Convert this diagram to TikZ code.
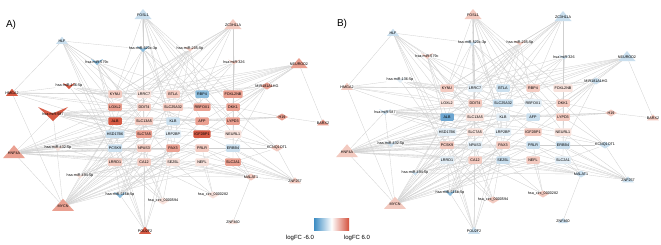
\documentclass[tikz,border=0pt]{standalone}
\usepackage{fontspec}
\setmainfont{Liberation Sans}
\usetikzlibrary{backgrounds}
\definecolor{cR0}{RGB}{248,226,220}
\definecolor{cR1}{RGB}{243,202,192}
\definecolor{cR2}{RGB}{234,160,145}
\definecolor{cR3}{RGB}{214,90,68}
\definecolor{cB0}{RGB}{226,237,245}
\definecolor{cB1}{RGB}{202,223,238}
\definecolor{cB2}{RGB}{140,188,220}
\definecolor{cB3}{RGB}{108,165,208}
\definecolor{lgB}{RGB}{60,140,195}
\definecolor{lgR}{RGB}{212,80,60}
\tikzset{
  lab/.style={font=\fontsize{3.7}{4}\selectfont, inner sep=0.3pt},
  gbox/.style={rounded corners=1pt, minimum width=13.5pt, minimum height=7.5pt, inner xsep=1.1pt, inner ysep=0pt, font=\fontsize{3.7}{4}\selectfont},
  edge/.style={draw=gray!38, line width=0.3pt},
  panellab/.style={font=\fontsize{10}{10}\selectfont},
  leglab/.style={font=\fontsize{6}{6}\selectfont}
}
% name, x, y, halfwidth, height, colour, label
\newcommand\TRI[7]{\fill[#6] ({#2-#4},{#3+0.4*#5}) -- ({#2+#4},{#3+0.4*#5}) -- (#2,{#3-0.6*#5}) -- cycle;
  \node[lab] (#1) at (#2,#3) {#7};}
\newcommand\VEE[7]{\fill[#6] ({#2-#4},{#3-0.5*#5}) -- (#2,{#3-0.05*#5}) -- ({#2+#4},{#3-0.5*#5}) -- (#2,{#3+0.5*#5}) -- cycle;
  \node[lab] (#1) at (#2,#3) {#7};}
\newcommand\DIA[7]{\fill[#6] ({#2-#4},#3) -- (#2,{#3-#5}) -- ({#2+#4},#3) -- (#2,{#3+#5}) -- cycle;
  \node[lab] (#1) at (#2,#3) {#7};}
\newcommand\BOX[5]{\node[gbox,fill=#4] (#1) at (#2,#3) {#5};}
\newcommand\EDG[2]{\foreach \t in {#2}{\draw[edge] (#1) -- (\t);}}
\newcommand\NETEDGES{%
\begin{pgfonlayer}{background}
\EDG{FOSL1}{LRRC7,m520,KYNU,BTLA,DDIT4,SLC13A5,LRP2BP,PAX3,FOXL2NB,SLC7A5,CA12,AFP,DKK1,LYPD3,NEURL1}
\EDG{HLF}{m520,m579,LOXL2,KYNU,SLC25A32,HSD17B6,PCSK9,DDIT4,LRRD1,HMGA2}
\EDG{m520}{KYNU,DDIT4,SLC25A32,LYPD3,KLB,RBFOX1,NPAS3,ALB}
\EDG{m579}{LOXL2,ALB,SLC13A5,HSD17B6,RBP4,IGF2BP1,SEZ6L}
\EDG{m136}{KYNU,SLC25A32,LRP2BP,DKK1,AFP,NEURL1,PCSK9}
\EDG{HMGA2}{MYCN,KYNU,LOXL2,LRRC7,DDIT4,m136,RBP4,SLC7A5}
\EDG{m587}{ALB,SLC13A5,KLB,AFP,LYPD3,LOXL2,DDIT4,HSD17B6,SLC7A5,IGF2BP1,NEURL1,PRLR,RBFOX1,DKK1}
\EDG{ZC3H11A}{m326,m205,FOXL2NB,RBP4,BTLA,LRRC7,KYNU,SLC25A32,ALB,LOXL2,DKK1}
\EDG{m205}{KYNU,LOXL2,SLC13A5,HSD17B6,LRRC7,RBFOX1,PAX3,CA12}
\EDG{m326}{FOXL2NB,DKK1,LYPD3,NEURL1,ERBB4,SLC2A1,BTLA,LRP2BP,PCSK9,KYNU}
\EDG{NEUROD2}{MIR181,RBP4,FOXL2NB,BTLA,SLC25A32,AFP,DKK1,LRRC7,DDIT4,BARX2,KYNU}
\EDG{MIR181}{FOXL2NB,RBP4,DKK1,LYPD3,IGF2BP1,ERBB4,BTLA}
\EDG{H19}{LYPD3,DKK1,AFP,BARX2,KLB,SLC13A5}
\EDG{KCNQ}{ERBB4,PRLR,IGF2BP1,LYPD3,DKK1,NEURL1,SLC2A1}
\EDG{MALAT1}{ZNF257,ZNF460,SLC2A1,PRLR,NEFL,ERBB4,SEZ6L,CA12,LRRD1,PCSK9}
\EDG{ZNF257}{KCNQ,NEURL1,ERBB4,SLC2A1,PRLR,NEFL,IGF2BP1,PAX3}
\EDG{c282}{SEZ6L,PRLR,NEFL,CA12}
\EDG{c594}{PCSK9,LRRD1,NPAS3,PAX3,CA12}
\EDG{POU2F2}{m516,PCSK9,LRRD1,CA12,NPAS3,SLC7A5,HSD17B6,PAX3,KLB}
\EDG{m516}{LRRD1,CA12,PAX3,PRLR,NPAS3,SLC13A5,AFP,IGF2BP1}
\EDG{MYCN}{m494,LRRD1,CA12,PCSK9,NPAS3,HSD17B6,ALB,SLC13A5,SLC7A5,PAX3,LRP2BP,SEZ6L,PRLR,KLB,NEFL,DDIT4,SLC2A1,LYPD3,ERBB4,m587}
\EDG{m494}{LRRD1,PCSK9,CA12,NPAS3,SEZ6L,KLB,ALB,PRLR,MALAT1}
\EDG{HNF4A}{m432,m587,ALB,HSD17B6,PCSK9,SLC13A5,SLC7A5,LRP2BP,NPAS3,PAX3,KLB,AFP,IGF2BP1,LRRD1,CA12,SEZ6L,NEFL,ERBB4,PRLR,LOXL2,DDIT4,MYCN}
\EDG{m432}{HSD17B6,PCSK9,SLC7A5,NPAS3,ALB,LRRD1,PAX3,KLB}
\end{pgfonlayer}}
\begin{document}
\begin{tikzpicture}[x=1pt,y=-1pt]
\useasboundingbox (0,0) rectangle (661,244);
% ---------------- Panel A ----------------
\begin{scope}[name prefix=A-]
\node[panellab] (lblA) at (11,25) {A)};
\BOX{KYNU}{115}{94}{cR1}{KYNU}
\BOX{LRRC7}{144}{94}{cR0}{LRRC7}
\BOX{BTLA}{173}{94}{cR1}{BTLA}
\BOX{RBP4}{202}{94}{cB2}{RBP4}
\BOX{FOXL2NB}{233}{94}{cR2}{FOXL2NB}
\BOX{LOXL2}{115}{107}{cR2}{LOXL2}
\BOX{DDIT4}{144}{107}{cR1}{DDIT4}
\BOX{SLC25A32}{173}{107}{cR1}{SLC25A32}
\BOX{RBFOX1}{202}{107}{cR2}{RBFOX1}
\BOX{DKK1}{233}{107}{cR2}{DKK1}
\BOX{ALB}{115}{121}{cR3}{ALB}
\BOX{SLC13A5}{144}{121}{cR1}{SLC13A5}
\BOX{KLB}{173}{121}{cB1}{KLB}
\BOX{AFP}{202}{121}{cR2}{AFP}
\BOX{LYPD3}{233}{121}{cR2}{LYPD3}
\BOX{HSD17B6}{115}{134}{cB1}{HSD17B6}
\BOX{SLC7A5}{144}{134}{cR2}{SLC7A5}
\BOX{LRP2BP}{173}{134}{cB0}{LRP2BP}
\BOX{IGF2BP1}{202}{134}{cR3}{IGF2BP1}
\BOX{NEURL1}{233}{134}{cR0}{NEURL1}
\BOX{PCSK9}{115}{148}{cB1}{PCSK9}
\BOX{NPAS3}{144}{148}{cR1}{NPAS3}
\BOX{PAX3}{173}{148}{cR2}{PAX3}
\BOX{PRLR}{202}{148}{cR1}{PRLR}
\BOX{ERBB4}{233}{148}{cB1}{ERBB4}
\BOX{LRRD1}{115}{162}{cR1}{LRRD1}
\BOX{CA12}{144}{162}{cR1}{CA12}
\BOX{SEZ6L}{173}{162}{cR0}{SEZ6L}
\BOX{NEFL}{202}{162}{cR0}{NEFL}
\BOX{SLC2A1}{233}{162}{cR2}{SLC2A1}
\TRI{FOSL1}{143}{15}{8.5}{10}{cB1}{FOSL1}
\TRI{HLF}{62}{41}{6}{7}{cB1}{HLF}
\VEE{m520}{143}{49}{6}{6}{cB2}{hsa-miR-520c-3p}
\VEE{m579}{97}{62}{6}{6}{cB2}{hsa-miR-579c}
\VEE{m136}{69}{86}{6}{6}{cR3}{hsa-miR-136-5p}
\TRI{HMGA2}{12}{93}{6}{7}{cR3}{HMGA2}
\VEE{m587}{53}{114}{15}{14}{cR3}{hsa-miR-587}
\TRI{ZC3H11A}{233}{25}{8.5}{10}{cR1}{ZC3H11A}
\VEE{m205}{190}{49}{6}{5}{cR1}{hsa-miR-205-5p}
\VEE{m326}{234}{62}{6}{5}{cR1}{hsa-miR-326}
\TRI{NEUROD2}{299}{64}{8.5}{10}{cR2}{NEUROD2}
\DIA{MIR181}{267}{86}{6}{3.5}{cR2}{MIR181A1HG}
\DIA{H19}{282}{117}{6}{3.5}{cR2}{H19}
\TRI{BARX2}{323}{123}{6}{6}{cR2}{BARX2}
\DIA{KCNQ}{277}{148}{6}{3.5}{cR1}{KCNQ1OT1}
\DIA{MALAT1}{251}{177}{6}{3.5}{cR1}{MALAT1}
\TRI{ZNF257}{295}{181}{6}{6}{cR1}{ZNF257}
\DIA{c282}{213}{195}{6}{3.5}{cR0}{hsa\_circ\_0000282}
\DIA{c594}{163}{201}{6}{3.5}{cR0}{hsa\_circ\_0000594}
\TRI{ZNF460}{233}{222}{5}{5}{cR0}{ZNF460}
\TRI{POU2F2}{145}{231}{6}{7}{cR3}{POU2F2}
\VEE{m516}{120}{195}{6}{6}{cB2}{hsa-miR-516b-5p}
\TRI{MYCN}{63}{206}{11}{12}{cR2}{MYCN}
\VEE{m494}{80}{176}{5}{5}{cR0}{hsa-miR-494-5p}
\TRI{HNF4A}{14}{153}{11}{13}{cR2}{HNF4A}
\VEE{m432}{58}{148}{6}{6}{cR0}{hsa-miR-432-5p}
\NETEDGES
\end{scope}
% ---------------- Panel B ----------------
\begin{scope}[shift={(330,0)},name prefix=B-]
\node[panellab] (lblB) at (12,24) {B)};
\BOX{KYNU}{117}{88}{cR1}{KYNU}
\BOX{LRRC7}{145}{88}{cB0}{LRRC7}
\BOX{BTLA}{173}{88}{cB1}{BTLA}
\BOX{RBP4}{203}{88}{cR1}{RBP4}
\BOX{FOXL2NB}{233}{88}{cR0}{FOXL2NB}
\BOX{LOXL2}{117}{103}{cR0}{LOXL2}
\BOX{DDIT4}{145}{103}{cR1}{DDIT4}
\BOX{SLC25A32}{173}{103}{cB1}{SLC25A32}
\BOX{RBFOX1}{203}{103}{cB0}{RBFOX1}
\BOX{DKK1}{233}{103}{cR1}{DKK1}
\BOX{ALB}{117}{117}{cB3}{ALB}
\BOX{SLC13A5}{145}{117}{cR0}{SLC13A5}
\BOX{KLB}{173}{117}{cB0}{KLB}
\BOX{AFP}{203}{117}{cB1}{AFP}
\BOX{LYPD3}{233}{117}{cR1}{LYPD3}
\BOX{HSD17B6}{117}{132}{cB0}{HSD17B6}
\BOX{SLC7A5}{145}{132}{cR0}{SLC7A5}
\BOX{LRP2BP}{173}{132}{cB0}{LRP2BP}
\BOX{IGF2BP1}{203}{132}{cR1}{IGF2BP1}
\BOX{NEURL1}{233}{132}{cR0}{NEURL1}
\BOX{PCSK9}{117}{145}{cR1}{PCSK9}
\BOX{NPAS3}{145}{145}{cB0}{NPAS3}
\BOX{PAX3}{173}{145}{cR1}{PAX3}
\BOX{PRLR}{203}{145}{cB1}{PRLR}
\BOX{ERBB4}{233}{145}{cB1}{ERBB4}
\BOX{LRRD1}{117}{160}{cB0}{LRRD1}
\BOX{CA12}{145}{160}{cR1}{CA12}
\BOX{SEZ6L}{173}{160}{cB1}{SEZ6L}
\BOX{NEFL}{203}{160}{cR1}{NEFL}
\BOX{SLC2A1}{233}{160}{cB0}{SLC2A1}
\TRI{FOSL1}{143}{15}{8.5}{10}{cR1}{FOSL1}
\TRI{HLF}{63}{33}{6}{7}{cB1}{HLF}
\VEE{m520}{142}{43}{6}{6}{cB1}{hsa-miR-520c-3p}
\VEE{m579}{97}{56}{6}{6}{cR1}{hsa-miR-579c}
\VEE{m136}{70}{80}{6}{6}{cB0}{hsa-miR-136-5p}
\TRI{HMGA2}{17}{87}{6}{7}{cR1}{HMGA2}
\VEE{m587}{55}{112}{6}{6}{cB1}{hsa-miR-587}
\TRI{ZC3H11A}{233}{17}{8.5}{10}{cB1}{ZC3H11A}
\VEE{m205}{190}{43}{6}{5}{cR1}{hsa-miR-205-5p}
\VEE{m326}{234}{57}{6}{5}{cB1}{hsa-miR-326}
\TRI{NEUROD2}{297}{57}{8.5}{10}{cB1}{NEUROD2}
\DIA{MIR181}{266}{81}{6}{3.5}{cB1}{MIR181A1HG}
\DIA{H19}{281}{113}{6}{3.5}{cR1}{H19}
\TRI{BARX2}{323}{118}{6}{6}{cR1}{BARX2}
\DIA{KCNQ}{275}{145}{6}{3.5}{cB1}{KCNQ1OT1}
\DIA{MALAT1}{251}{174}{6}{3.5}{cB1}{MALAT1}
\TRI{ZNF257}{298}{180}{6}{6}{cB1}{ZNF257}
\DIA{c282}{213}{194}{6}{3.5}{cR1}{hsa\_circ\_0000282}
\DIA{c594}{163}{200}{6}{3.5}{cR1}{hsa\_circ\_0000594}
\TRI{ZNF460}{233}{221}{5}{5}{cB1}{ZNF460}
\TRI{POU2F2}{144}{231}{6}{7}{cB1}{POU2F2}
\VEE{m516}{120}{193}{6}{6}{cB2}{hsa-miR-516b-5p}
\TRI{MYCN}{65}{204}{11}{12}{cR1}{MYCN}
\VEE{m494}{85}{173}{5}{5}{cB1}{hsa-miR-494-5p}
\TRI{HNF4A}{17}{152}{11}{13}{cR1}{HNF4A}
\VEE{m432}{61}{144}{6}{6}{cB1}{hsa-miR-432-5p}
\NETEDGES
\end{scope}
% ---------------- Legend ----------------
\shade[left color=lgB, right color=lgR, middle color=white] (314,218) rectangle (349,230);
\node[leglab] (legL) at (300,238) {logFC -6.0};
\node[leglab] (legR) at (357,238) {logFC 6.0};
\end{tikzpicture}
\end{document}
